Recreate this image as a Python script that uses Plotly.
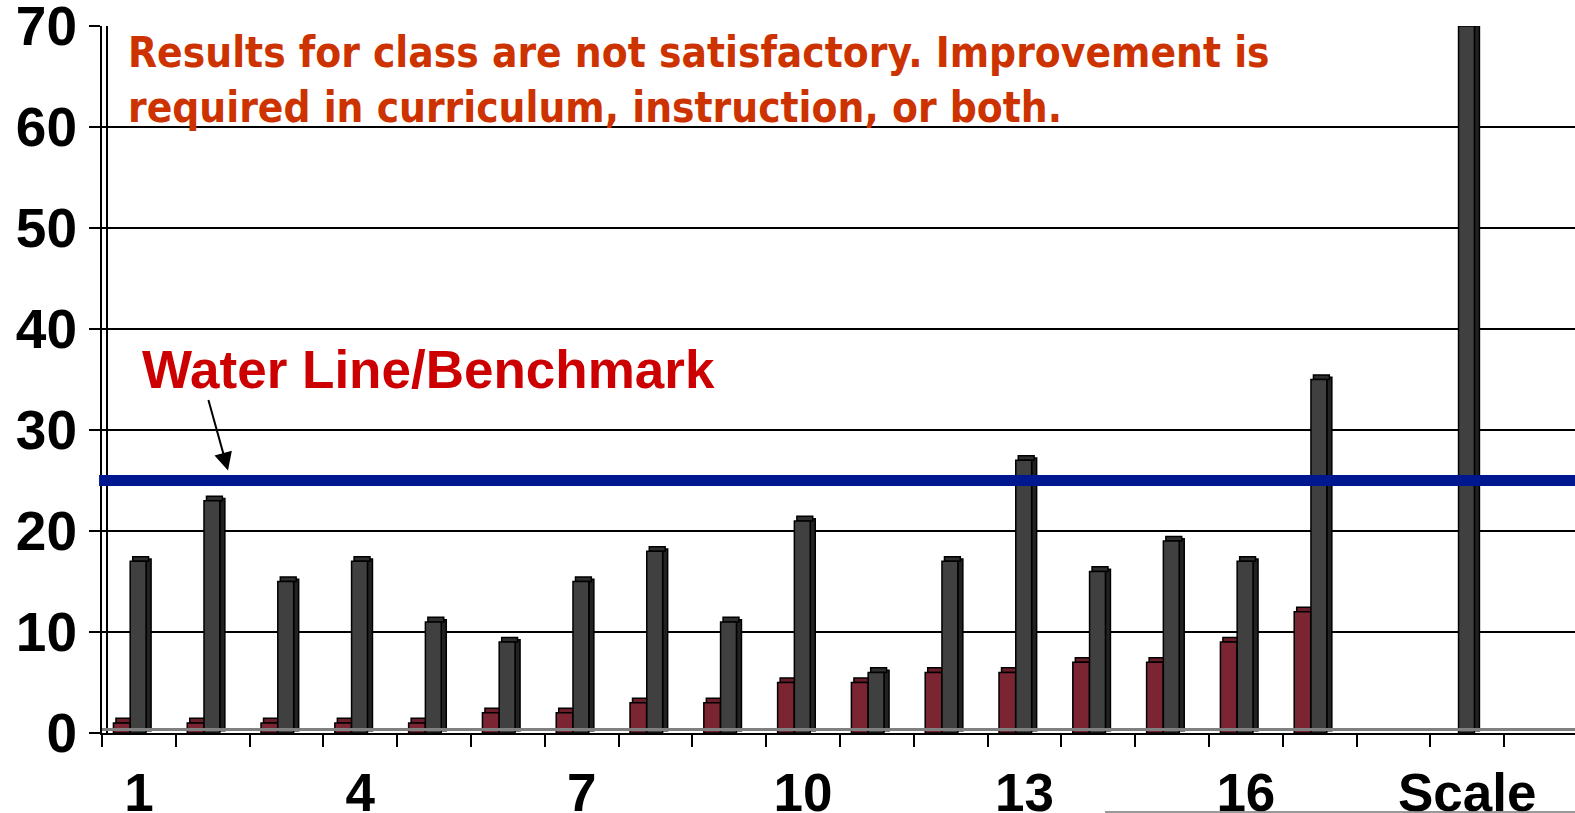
import plotly.graph_objects as go

categories = [str(i) for i in range(1, 19)] + ["Scale"]
red_values = [1, 1, 1, 1, 1, 2, 2, 3, 3, 5, 5, 6, 6, 7, 7, 9, 12, None, None]
dark_values = [17, 23, 15, 17, 11, 9, 15, 18, 11, 21, 6, 17, 27, 16, 19, 17, 35, None, 70]
tick_labels = ["1", "4", "7", "10", "13", "16", "Scale"]
y_ticks = [0, 10, 20, 30, 40, 50, 60, 70]
benchmark = 25

xpos = list(range(1, len(categories) + 1))
tick_pos = [xpos[categories.index(t)] for t in tick_labels]

RED = "#7B2432"
RED_SIDE = "#5a1824"
RED_TOP = "#6a1e2a"
DARK = "#404040"
DARK_SIDE = "#222222"
DARK_TOP = "#2e2e2e"
LINE = dict(color="black", width=1.5)

DEPTH = 0.45  # 3D depth in value units

def shifted(vals, d):
    return [None if v is None else d for v in vals]

fig = go.Figure()

def add_3d(vals, off, w, front, side, top):
    sw = 0.068
    fig.add_trace(go.Bar(x=xpos, y=vals, base=shifted(vals, DEPTH / 2), offset=off + w, width=sw,
                         marker=dict(color=side, line=LINE), hoverinfo="skip", showlegend=False))
    fig.add_trace(go.Bar(x=xpos, y=shifted(vals, DEPTH), base=vals, offset=off + sw / 2, width=w,
                         marker=dict(color=top, line=LINE), hoverinfo="skip", showlegend=False))
    fig.add_trace(go.Bar(x=xpos, y=vals, offset=off, width=w,
                         marker=dict(color=front, line=LINE), showlegend=False))

add_3d(red_values, -0.345, 0.225, RED, RED_SIDE, RED_TOP)
add_3d(dark_values, -0.118, 0.215, DARK, DARK_SIDE, DARK_TOP)

L, T, B = 102, 26, 80
W, H = 1575, 813
PH = H - T - B

fig.update_layout(
    width=W, height=H,
    margin=dict(l=L, r=0, t=T, b=B),
    barmode="overlay",
    plot_bgcolor="white", paper_bgcolor="white",
    xaxis=dict(
        range=[0.5, 20.46], automargin=False,
        tickmode="array", tickvals=tick_pos, ticktext=tick_labels,
        ticks="", showgrid=False, zeroline=False,
        showline=True, linecolor="black", linewidth=2,
        tickfont=dict(family="Liberation Sans, Arial", size=53, color="black", weight="bold"),
        ticklabelstandoff=12, ticklabeloverflow="allow",
        minor=dict(tickmode="linear", tick0=0.5, dtick=1, ticks="outside", ticklen=12,
                   tickwidth=2, tickcolor="black", showgrid=False),
    ),
    yaxis=dict(
        range=[0, 70.001], automargin=False,
        tickmode="array", tickvals=y_ticks,
        showgrid=True, gridcolor="black", gridwidth=2,
        zeroline=False, showline=True, linecolor="black", linewidth=2,
        ticks="outside", ticklen=11, tickwidth=2, tickcolor="black",
        tickfont=dict(family="Liberation Sans, Arial", size=55, color="black", weight="bold"),
        ticklabelstandoff=1, ticklabeloverflow="allow",
    ),
)

fig.add_shape(type="line", xref="x", yref="paper", x0=0.5 + 5 / 73.8, x1=0.5 + 5 / 73.8, y0=0, y1=1,
              line=dict(color="black", width=2))
fig.add_shape(type="line", xref="paper", yref="y", x0=0, x1=1, y0=0.35, y1=0.35,
              line=dict(color="#808080", width=3))
fig.add_shape(type="line", xref="paper", yref="y", x0=-0.002, x1=1, y0=benchmark, y1=benchmark,
              line=dict(color="#00188F", width=11))
fig.add_shape(type="line", xref="paper", yref="paper", x0=(1105 - L) / (W - L), x1=1,
              y0=-(812 - 733) / PH, y1=-(812 - 733) / PH,
              line=dict(color="#777777", width=1.5))

fig.add_annotation(
    xref="paper", yref="paper", x=(126 - L) / (W - L), y=1.0, xanchor="left", yanchor="top",
    text="Results for class are not satisfactory. Improvement is<br>required in curriculum, instruction, or both.",
    showarrow=False, align="left",
    font=dict(family="DejaVu Sans Condensed, DejaVu Sans", size=42, color="#CC3300", weight="bold"),
)
fig.add_annotation(
    xref="paper", yref="y", x=(140 - L) / (W - L), y=36, xanchor="left", yanchor="middle",
    text="Water Line/Benchmark", showarrow=False,
    font=dict(family="Liberation Sans, Arial", size=53, color="#CC0000", weight="bold"),
)
fig.add_annotation(
    xref="x", yref="y", x=0.5 + (228 - L) / 73.8, y=26.0, text="", showarrow=True,
    ax=-20, ay=-72, arrowhead=2, arrowsize=1.8, arrowwidth=2, arrowcolor="black",
)

fig.write_html("out.html", config={"displayModeBar": False},
               post_script="document.body.style.margin='0';")
